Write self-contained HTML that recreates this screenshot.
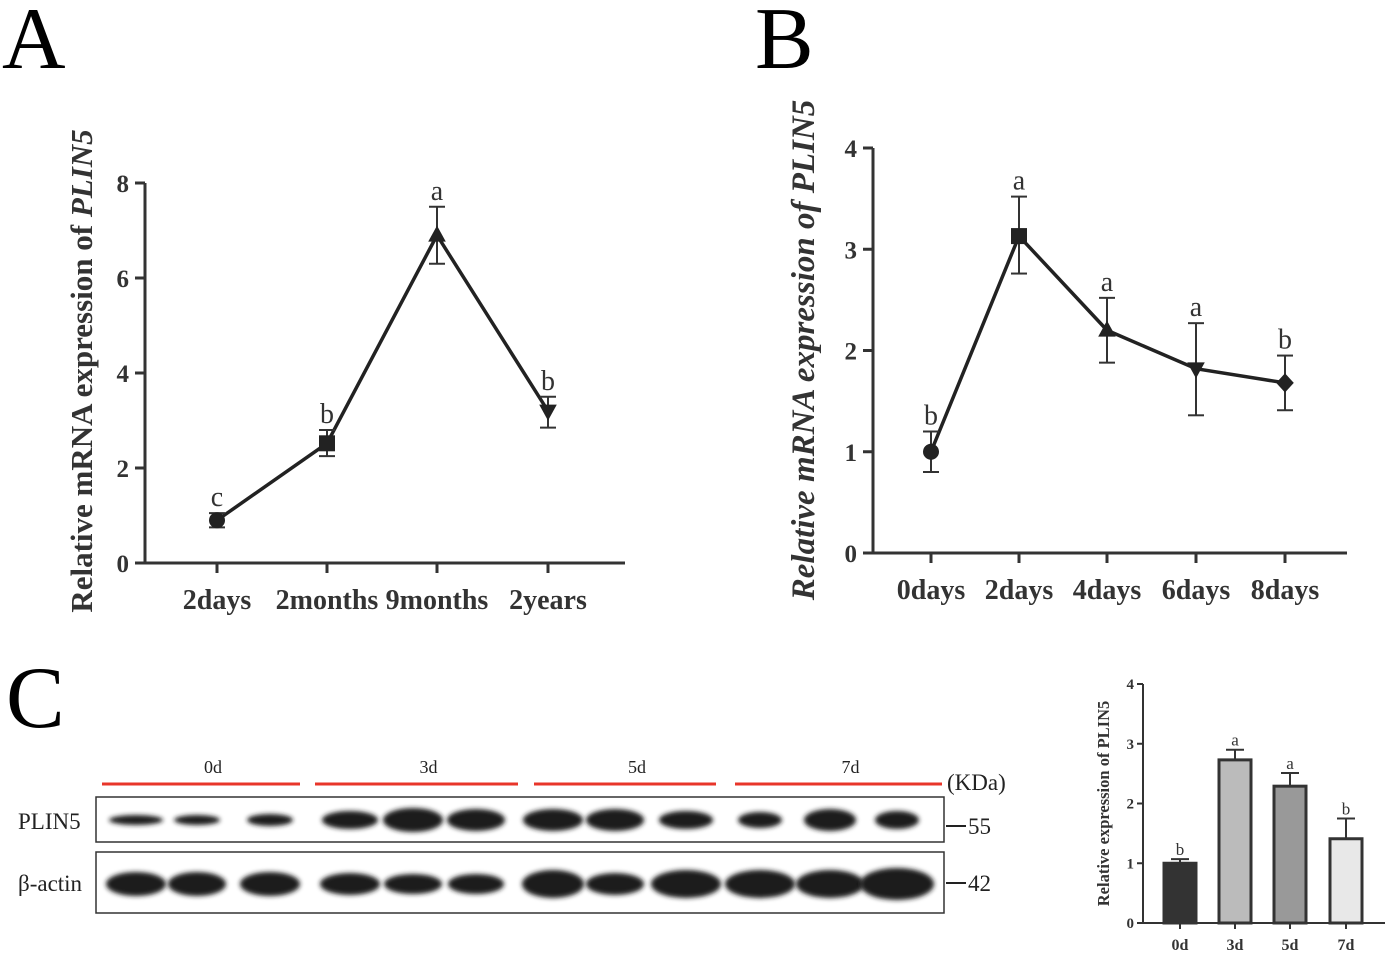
<!DOCTYPE html>
<html><head><meta charset="utf-8"><style>
body{margin:0;background:#fff;}
svg{display:block;font-family:"Liberation Serif",serif;}
</style></head><body>
<svg width="1397" height="960" viewBox="0 0 1397 960">
<defs><filter id="bl" x="-20%" y="-50%" width="140%" height="200%"><feGaussianBlur stdDeviation="2.5"/></filter></defs>
<text x="2" y="68" font-size="88">A</text>
<text x="755" y="68" font-size="88">B</text>
<text x="6" y="727" font-size="88">C</text>
<g id="chartA"></g>
<g id="chartB"></g>
<g id="blot"></g>
<g id="chartC"></g>
</svg>
<script>
const aCats=["2days","2months","9months","2years"];
const aVals=[0.9,2.52,6.9,3.2];
const aErrLo=[0.75,2.25,6.3,2.85];
const aErrHi=[1.05,2.8,7.5,3.5];
const aSig=["c","b","a","b"];
const aTicks=[0,2,4,6,8];
const bCats=["0days","2days","4days","6days","8days"];
const bVals=[1.0,3.13,2.2,1.82,1.68];
const bErrLo=[0.8,2.76,1.88,1.36,1.41];
const bErrHi=[1.2,3.52,2.52,2.27,1.95];
const bSig=["b","a","a","a","b"];
const bTicks=[0,1,2,3,4];
const cCats=["0d","3d","5d","7d"];
const cVals=[1.0,2.73,2.29,1.41];
const cErr=[0.07,0.17,0.22,0.34];
const cSig=["b","a","a","b"];
const cTicks=[0,1,2,3,4];
const NS="http://www.w3.org/2000/svg";
function mk(p,t,a,txt){const e=document.createElementNS(NS,t);for(const k in a)e.setAttribute(k,a[k]);if(txt!==undefined)e.textContent=txt;p.appendChild(e);return e;}
function marker(g,shape,x,y,s){
 if(shape==="circle")return mk(g,"circle",{cx:x,cy:y,r:s,fill:"#222"});
 if(shape==="square")return mk(g,"rect",{x:x-s,y:y-s,width:2*s,height:2*s,fill:"#222"});
 if(shape==="tri")return mk(g,"polygon",{points:`${x},${y-s*1.2} ${x-s*1.1},${y+s*0.8} ${x+s*1.1},${y+s*0.8}`,fill:"#222"});
 if(shape==="itri")return mk(g,"polygon",{points:`${x},${y+s*1.2} ${x-s*1.1},${y-s*0.8} ${x+s*1.1},${y-s*0.8}`,fill:"#222"});
 return mk(g,"polygon",{points:`${x},${y-s*1.2} ${x+s*1.1},${y} ${x},${y+s*1.2} ${x-s*1.1},${y}`,fill:"#222"});
}
function lineChart(g,o){
 const y=v=>o.y0-(v-o.tmin)/(o.tmax-o.tmin)*(o.y0-o.y1);
 const x=i=>o.xs[i];
 mk(g,"line",{x1:o.ax,y1:o.y1,x2:o.ax,y2:o.y0+1.5,stroke:"#333","stroke-width":3});
 mk(g,"line",{x1:o.ax,y1:o.y0,x2:o.ax2,y2:o.y0,stroke:"#333","stroke-width":3});
 o.ticks.forEach(t=>{mk(g,"line",{x1:o.ax-10,y1:y(t),x2:o.ax,y2:y(t),stroke:"#333","stroke-width":3});
  const l=mk(g,"text",{x:o.ax-16,y:y(t)+9,"font-size":25,"font-weight":"bold","text-anchor":"end",fill:"#333"},t);
  });
 o.cats.forEach((c,i)=>{mk(g,"line",{x1:x(i),y1:o.y0,x2:x(i),y2:o.y0+10,stroke:"#333","stroke-width":3});
  const l=mk(g,"text",{x:x(i),y:o.y0+46,"font-size":28,"font-weight":"bold","text-anchor":"middle",fill:"#333"},c);
  });
 const pts=o.vals.map((v,i)=>x(i)+","+y(v)).join(" ");
 const pl=mk(g,"polyline",{points:pts,fill:"none",stroke:"#222","stroke-width":3.5});
 
 o.vals.forEach((v,i)=>{
  mk(g,"line",{x1:x(i),y1:y(o.lo[i]),x2:x(i),y2:y(o.hi[i]),stroke:"#333","stroke-width":2});
  mk(g,"line",{x1:x(i)-8,y1:y(o.lo[i]),x2:x(i)+8,y2:y(o.lo[i]),stroke:"#333","stroke-width":2});
  mk(g,"line",{x1:x(i)-8,y1:y(o.hi[i]),x2:x(i)+8,y2:y(o.hi[i]),stroke:"#333","stroke-width":2});
  const m=marker(g,o.shapes[i],x(i),y(v),8);
  
  const s=mk(g,"text",{x:x(i),y:y(o.hi[i])-7,"font-size":28,"text-anchor":"middle",fill:"#333"},o.sig[i]);
  
 });
 const t=mk(g,"text",{transform:`translate(${o.lx},${o.ly}) rotate(-90)`,"font-size":o.fs,"font-weight":"bold","text-anchor":"middle",fill:"#333","font-style":o.italic?"italic":"normal"});
 
 t.appendChild(document.createTextNode("Relative mRNA expression of "));
 mk(t,"tspan",{"font-style":"italic"},"PLIN5");
}
lineChart(document.getElementById("chartA"),{ax:145,ax2:625,y0:563,y1:183,tmin:0,tmax:8,xs:[217,327,437,548],cats:aCats,vals:aVals,lo:aErrLo,hi:aErrHi,sig:aSig,ticks:aTicks,shapes:["circle","square","tri","itri"],lx:92,ly:371,fs:31});
lineChart(document.getElementById("chartB"),{ax:873,ax2:1347,y0:553,y1:148,tmin:0,tmax:4,xs:[931,1019,1107,1196,1285],cats:bCats,vals:bVals,lo:bErrLo,hi:bErrHi,sig:bSig,ticks:bTicks,shapes:["circle","square","tri","itri","dia"],lx:814,ly:350,fs:33,italic:true});
(function(){
 const g=document.getElementById("chartC");
 const ax=1143,ax2=1385,y0=923,y1=684,y=v=>y0-v/4*(y0-y1);
 const xs=[1180,1235,1290,1346],fills=["#333","#bbb","#999","#e8e8e8"];
 mk(g,"line",{x1:ax,y1:y1,x2:ax,y2:y0+1,stroke:"#333","stroke-width":2});
 mk(g,"line",{x1:ax,y1:y0,x2:ax2,y2:y0,stroke:"#333","stroke-width":2});
 cTicks.forEach(t=>{mk(g,"line",{x1:ax-6,y1:y(t),x2:ax,y2:y(t),stroke:"#333","stroke-width":2});
  const l=mk(g,"text",{x:ax-9,y:y(t)+5,"font-size":15,"font-weight":"bold","text-anchor":"end",fill:"#333"},t);
  });
 cCats.forEach((c,i)=>{
  const b=mk(g,"rect",{x:xs[i]-16,y:y(cVals[i]),width:32,height:y0-y(cVals[i]),fill:fills[i],stroke:"#333","stroke-width":3});
  
  const top=y(cVals[i]+cErr[i]);
  mk(g,"line",{x1:xs[i],y1:y(cVals[i]),x2:xs[i],y2:top,stroke:"#333","stroke-width":2});
  mk(g,"line",{x1:xs[i]-9,y1:top,x2:xs[i]+9,y2:top,stroke:"#333","stroke-width":2});
  mk(g,"line",{x1:xs[i],y1:y0,x2:xs[i],y2:y0+6,stroke:"#333","stroke-width":2});
  const s=mk(g,"text",{x:xs[i],y:top-4,"font-size":17,"text-anchor":"middle",fill:"#333"},cSig[i]);
  
  const l=mk(g,"text",{x:xs[i],y:y0+27,"font-size":16,"font-weight":"bold","text-anchor":"middle",fill:"#333"},c);
  
 });
 const t=mk(g,"text",{transform:`translate(1109,${(y0+y1)/2}) rotate(-90)`,"font-size":16.5,"font-weight":"bold","text-anchor":"middle",fill:"#333"},"Relative expression of PLIN5");
 
})();
(function(){
 const g=document.getElementById("blot");
 const groups=[["0d",102,300],["3d",315,518],["5d",534,716],["7d",735,942]];
 groups.forEach(gr=>{
  mk(g,"line",{x1:gr[1],y1:784,x2:gr[2],y2:784,stroke:"#e8352a","stroke-width":3});
  const l=mk(g,"text",{x:(gr[1]+gr[2])/2+12,y:773,"font-size":18,"text-anchor":"middle",fill:"#222"},gr[0]);
  
 });
 mk(g,"text",{x:947,y:790,"font-size":23,fill:"#222"},"(KDa)");
 const lanes=[136,197,270,350,413,476,553,615,686,760,830,897];
 const plin=[[54,5],[46,5],[46,6],[56,9],[60,12],[58,11],[60,11],[58,11],[54,9],[44,8],[52,11],[44,9]];
 const act=[[60,12],[58,12],[60,12],[60,11],[58,10],[56,10],[62,14],[58,11],[70,14],[70,14],[68,14],[74,16]];
 mk(g,"rect",{x:96,y:797,width:848,height:45,fill:"#fff",stroke:"#333","stroke-width":1.5,});
 mk(g,"rect",{x:96,y:852,width:848,height:61,fill:"#fff",stroke:"#333","stroke-width":1.5,});
 lanes.forEach((cx,i)=>{
  const a=mk(g,"ellipse",{cx:cx,cy:820,rx:plin[i][0]/2,ry:plin[i][1],fill:"#1a1a1a",filter:"url(#bl)"});
  
  const b=mk(g,"ellipse",{cx:cx,cy:884,rx:act[i][0]/2,ry:act[i][1],fill:"#1a1a1a",filter:"url(#bl)"});
  
 });
 mk(g,"text",{x:18,y:829,"font-size":23,fill:"#222"},"PLIN5");
 mk(g,"text",{x:18,y:891,"font-size":23,fill:"#222"},"β-actin");
 mk(g,"line",{x1:946,y1:826,x2:966,y2:826,stroke:"#222","stroke-width":2});
 mk(g,"line",{x1:946,y1:883,x2:966,y2:883,stroke:"#222","stroke-width":2});
 mk(g,"text",{x:968,y:834,"font-size":23,fill:"#222"},"55");
 mk(g,"text",{x:968,y:891,"font-size":23,fill:"#222"},"42");
})();
</script>
</body></html>
